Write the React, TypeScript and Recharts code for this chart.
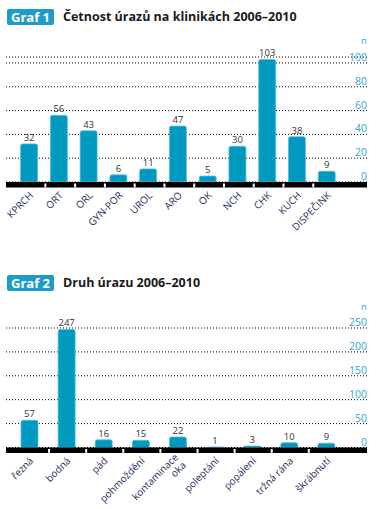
import React from "react";
import { BarChart, Bar, XAxis, YAxis, CartesianGrid, LabelList } from "recharts";

const clinics = ["KPRCH", "ORT", "ORL", "GYN-POR", "UROL", "ARO", "OK", "NCH", "CHK", "KUCH", "DISPEČINK"];
const clinicCounts = [32, 56, 43, 6, 11, 47, 5, 30, 103, 38, 9];
const clinicTicks = [0, 20, 40, 60, 80, 100];

const injuryTypes = ["řezná", "bodná", "pád", "pohmoždění", "kontaminace oka", "poleptání", "popálení", "tržná rána", "škrábnutí"];
const injuryCounts = [57, 247, 16, 15, 22, 1, 3, 10, 9];
const injuryTicks = [0, 50, 100, 150, 200, 250];

const BAR = "#0099c0";
const TICK_BLUE = "#3ba2d6";
const LABEL = "#242d5c";
const FONT = "'Open Sans', 'Noto Sans', sans-serif";

const clinicData = clinics.map((name, i) => ({ name, value: clinicCounts[i] }));
const injuryData = injuryTypes.map((name, i) => ({ name, value: injuryCounts[i] }));

// category label rotated 45deg, plus the little white notch in the black axis bar
function makeXTick(halfBand: number) {
  return function XTick(props: any) {
    const { x, y, payload, index, visibleTicksCount } = props;
    const lines = payload.value === "kontaminace oka" ? ["kontaminace", "oka"] : [String(payload.value)];
    const ax = x + 4.5;
    const ay = y + 14;
    const shift = lines.length > 1 ? -5 : 0;
    return (
      <g>
        {index < visibleTicksCount - 1 && (
          <rect x={x + halfBand} y={y + 1.5} width={2} height={3.8} fill="#fff" />
        )}
        <text
          x={ax}
          y={ay}
          transform={`rotate(-45, ${ax}, ${ay})`}
          textAnchor="end"
          fontSize={10}
          fontFamily={FONT}
          fill={LABEL}
        >
          {lines.map((l, k) => (
            <tspan key={k} x={ax} dy={k === 0 ? shift : 11}>
              {l}
            </tspan>
          ))}
        </text>
      </g>
    );
  };
}

function YTick(props: any) {
  const { y, payload } = props;
  return (
    <text x={367} y={y - 2} textAnchor="end" fontSize={10.5} fontFamily={FONT} fill={TICK_BLUE}>
      {payload.value}
    </text>
  );
}

function Title({ top, num, text }: { top: number; num: number; text: string }) {
  return (
    <>
      <div
        style={{
          position: "absolute",
          left: 7,
          top,
          width: 47,
          height: 16,
          background: "#1d9cca",
          borderRadius: 2,
          color: "#fff",
          fontFamily: FONT,
          fontWeight: 700,
          fontSize: 13,
          lineHeight: "16px",
          textAlign: "center",
        }}
      >
        Graf {num}
      </div>
      <div
        style={{
          position: "absolute",
          left: 63,
          top,
          height: 16,
          lineHeight: "16px",
          fontFamily: FONT,
          fontWeight: 700,
          fontSize: 12.5,
          color: "#1a1a1a",
          whiteSpace: "nowrap",
        }}
      >
        {text}
      </div>
    </>
  );
}

function NLabel({ top }: { top: number }) {
  return (
    <div
      style={{
        position: "absolute",
        left: 361,
        top,
        fontFamily: FONT,
        fontSize: 9.5,
        lineHeight: "10px",
        color: TICK_BLUE,
      }}
    >
      n
    </div>
  );
}

const axisLine = { stroke: "#000", strokeWidth: 5.5, transform: "translate(0, 2.75)" };

export default function App() {
  return (
    <div style={{ position: "absolute", left: 0, top: 0, width: 378, height: 509, background: "#fff" }}>
      <Title top={9} num={1} text="Četnost úrazů na klinikách 2006–2010" />
      <NLabel top={36} />
      <div style={{ position: "absolute", left: 0, top: 0 }}>
        <BarChart
          width={378}
          height={260}
          data={clinicData}
          margin={{ top: 57, right: 11, bottom: 6, left: 6 }}
        >
          <CartesianGrid vertical={false} stroke="#000" strokeDasharray="1 2" />
          <XAxis
            dataKey="name"
            interval={0}
            height={72}
            tickSize={0}
            tickMargin={0}
            padding={{ left: 8.6, right: 25 }}
            axisLine={axisLine}
            tick={makeXTick(14.9)}
          />
          <YAxis
            orientation="right"
            mirror
            width={30}
            domain={[0, 105]}
            ticks={clinicTicks}
            interval={0}
            axisLine={false}
            tickLine={false}
            tick={<YTick />}
          />
          <Bar
            dataKey="value"
            fill={BAR}
            stroke="#5cbad8"
            strokeWidth={0.8}
            barSize={17}
            radius={[2, 2, 0, 0]}
            isAnimationActive={false}
          >
            <LabelList dataKey="value" position="top" offset={3} fontSize={9.5} fontFamily={FONT} fill="#333" />
          </Bar>
        </BarChart>
      </div>

      <Title top={275} num={2} text="Druh úrazu 2006–2010" />
      <NLabel top={302} />
      <div style={{ position: "absolute", left: 0, top: 260 }}>
        <BarChart
          width={378}
          height={249}
          data={injuryData}
          margin={{ top: 68, right: 11, bottom: 5.5, left: 6 }}
        >
          <CartesianGrid vertical={false} stroke="#000" strokeDasharray="1 2" />
          <XAxis
            dataKey="name"
            interval={0}
            height={56}
            tickSize={0}
            tickMargin={0}
            padding={{ left: 5, right: 22 }}
            axisLine={axisLine}
            tick={makeXTick(18.5)}
          />
          <YAxis
            orientation="right"
            mirror
            width={30}
            domain={[0, 250]}
            ticks={injuryTicks}
            interval={0}
            axisLine={false}
            tickLine={false}
            tick={<YTick />}
          />
          <Bar
            dataKey="value"
            fill={BAR}
            stroke="#5cbad8"
            strokeWidth={0.8}
            barSize={17}
            radius={[2, 2, 0, 0]}
            isAnimationActive={false}
          >
            <LabelList dataKey="value" position="top" offset={3} fontSize={9.5} fontFamily={FONT} fill="#333" />
          </Bar>
        </BarChart>
      </div>
    </div>
  );
}
